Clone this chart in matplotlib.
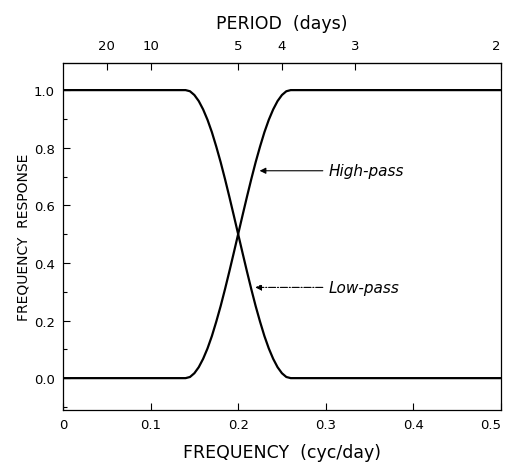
import matplotlib.pyplot as plt
from matplotlib.ticker import MultipleLocator

# filter responses
freq = [0.0, 0.10, 0.14, 0.145, 0.15, 0.155, 0.16, 0.165, 0.17, 0.175, 0.18, 0.185,
        0.19, 0.195, 0.20, 0.205, 0.21, 0.215, 0.22, 0.225, 0.23, 0.235, 0.24,
        0.245, 0.25, 0.255, 0.26, 0.30, 0.40, 0.50]
low_pass = [1.0, 1.0, 1.0, 0.996, 0.983, 0.962, 0.933, 0.897, 0.854, 0.804, 0.75, 0.691,
            0.629, 0.565, 0.5, 0.435, 0.371, 0.309, 0.25, 0.196, 0.146, 0.103, 0.067,
            0.038, 0.017, 0.004, 0.0, 0.0, 0.0, 0.0]
high_pass = [0.0, 0.0, 0.0, 0.004, 0.017, 0.038, 0.067, 0.103, 0.146, 0.196, 0.25, 0.309,
             0.371, 0.435, 0.5, 0.565, 0.629, 0.691, 0.75, 0.804, 0.854, 0.897, 0.933,
             0.962, 0.983, 0.996, 1.0, 1.0, 1.0, 1.0]

x_ticks = [0, 0.1, 0.2, 0.3, 0.4, 0.5]
x_labels = ['0', '0.1', '0.2', '0.3', '0.4', '0.5']
y_ticks = [0.0, 0.2, 0.4, 0.6, 0.8, 1.0]
periods = [20, 10, 5, 4, 3, 2]

plt.rcParams['font.family'] = 'DejaVu Sans'

fig = plt.figure(figsize=(5.08, 4.64), dpi=100)
ax = fig.add_axes([0.124, 0.114, 0.862, 0.748])

ax.plot(freq, low_pass, color='black', lw=1.6, solid_joinstyle='round')
ax.plot(freq, high_pass, color='black', lw=1.6, solid_joinstyle='round')

ax.set_xlim(0, 0.5)
ax.set_ylim(-0.111, 1.094)
ax.set_xticks(x_ticks)
ax.set_xticklabels(x_labels)
ax.set_yticks(y_ticks)
ax.set_yticklabels([f'{v:.1f}' for v in y_ticks])
ax.yaxis.set_minor_locator(MultipleLocator(0.1))
ax.tick_params(direction='in', length=5, width=0.8, labelsize=9.5, pad=6)
ax.tick_params(which='minor', direction='in', length=3, width=0.8)
ax.get_xticklabels()[-1].set_horizontalalignment('right')
for s in ax.spines.values():
    s.set_linewidth(0.9)

ax.set_xlabel('FREQUENCY  (cyc/day)', fontsize=12.5, labelpad=8)
ax.set_ylabel('FREQUENCY  RESPONSE', fontsize=10, labelpad=2)

top = ax.secondary_xaxis('top')
top.set_xticks([1 / p for p in periods])
top.set_xticklabels([str(p) for p in periods])
top.tick_params(direction='in', length=5, width=0.8, labelsize=9.5, pad=8)
top.get_xticklabels()[-1].set_horizontalalignment('right')
top.set_xlabel('PERIOD  (days)', fontsize=12.5, labelpad=8)

ax.annotate('High-pass', xy=(0.2245, 0.72), xytext=(0.303, 0.72),
            fontsize=11, style='italic', va='center',
            arrowprops=dict(arrowstyle='-|>', color='black', lw=0.8,
                            shrinkA=2, shrinkB=0, mutation_scale=9))
ax.annotate('Low-pass', xy=(0.2195, 0.315), xytext=(0.303, 0.315),
            fontsize=11, style='italic', va='center',
            arrowprops=dict(arrowstyle='-|>', color='black', lw=0.8, ls='-.',
                            shrinkA=2, shrinkB=0, mutation_scale=9))

fig.savefig('out.png', dpi=100)
